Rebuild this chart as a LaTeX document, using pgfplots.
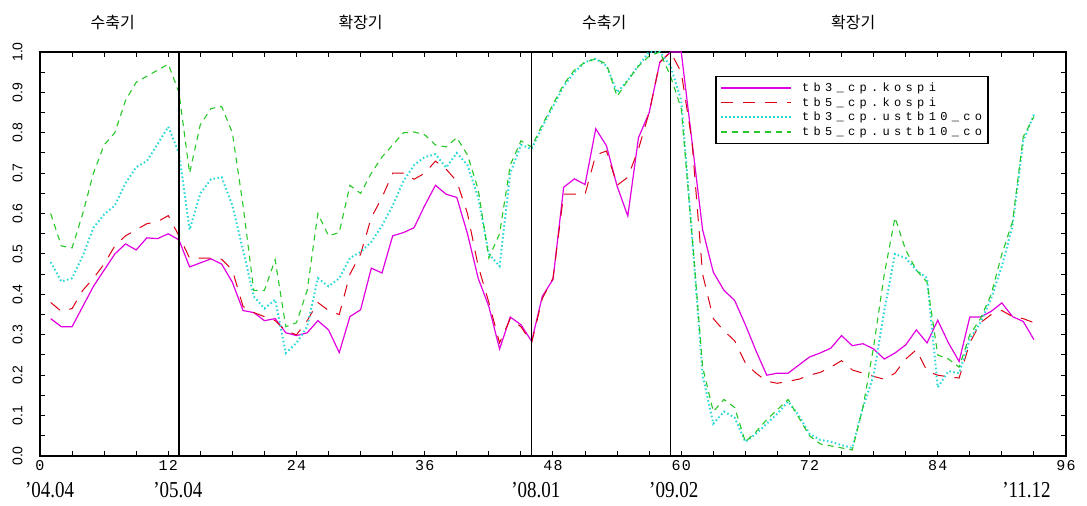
\documentclass[border=0pt]{standalone}
\usepackage{fontspec}
\usepackage{pgfplots}
\usepackage{pgfplotstable}
\pgfplotsset{compat=1.18}
\setmainfont{Liberation Serif}
\newfontfamily\kr{Noto Sans CJK KR}
\newfontfamily\pix[LetterSpace=8]{Liberation Mono}
\newfontfamily\legfont[LetterSpace=36]{Liberation Mono}
\newfontfamily\ypix{Liberation Sans}
\definecolor{cmag}{RGB}{225,0,225}
\definecolor{cred}{RGB}{220,0,20}
\definecolor{ccyan}{RGB}{40,215,215}
\definecolor{cgreen}{RGB}{40,200,40}
\pgfplotstableread{
x a b c d
1 0.34 0.38 0.48 0.60
2 0.32 0.358 0.432 0.52
3 0.32 0.365 0.44 0.515
4 0.37 0.41 0.495 0.60
5 0.42 0.44 0.565 0.70
6 0.46 0.475 0.598 0.77
7 0.50 0.52 0.62 0.80
8 0.525 0.545 0.675 0.88
9 0.51 0.56 0.715 0.925
10 0.54 0.575 0.73 0.94
11 0.538 0.58 0.772 0.955
12 0.55 0.595 0.815 0.97
13 0.535 0.545 0.75 0.90
14 0.468 0.49 0.56 0.70
15 0.478 0.49 0.65 0.82
16 0.488 0.49 0.685 0.86
17 0.475 0.487 0.69 0.865
18 0.43 0.46 0.62 0.80
19 0.36 0.37 0.51 0.62
20 0.355 0.355 0.395 0.41
21 0.335 0.345 0.365 0.41
22 0.34 0.335 0.387 0.486
23 0.305 0.31 0.255 0.32
24 0.298 0.30 0.28 0.33
25 0.305 0.335 0.32 0.41
26 0.335 0.38 0.44 0.60
27 0.312 0.36 0.42 0.545
28 0.256 0.35 0.44 0.553
29 0.345 0.45 0.49 0.67
30 0.362 0.50 0.505 0.65
31 0.465 0.59 0.53 0.70
32 0.453 0.64 0.57 0.74
33 0.545 0.70 0.62 0.77
34 0.553 0.70 0.68 0.80
35 0.565 0.685 0.72 0.802
36 0.62 0.70 0.74 0.795
37 0.67 0.73 0.747 0.77
38 0.648 0.71 0.714 0.765
39 0.64 0.68 0.75 0.788
40 0.55 0.60 0.72 0.745
41 0.44 0.47 0.64 0.66
42 0.37 0.38 0.50 0.49
43 0.265 0.28 0.47 0.55
44 0.344 0.34 0.70 0.72
45 0.325 0.32 0.77 0.78
46 0.284 0.28 0.76 0.765
47 0.395 0.39 0.815 0.82
48 0.437 0.44 0.865 0.87
49 0.665 0.648 0.915 0.92
50 0.686 0.648 0.95 0.955
51 0.672 0.648 0.975 0.975
52 0.81 0.745 0.983 0.983
53 0.768 0.755 0.966 0.97
54 0.668 0.67 0.90 0.89
55 0.594 0.69 0.93 0.93
56 0.788 0.76 0.966 0.965
57 0.85 0.85 1.0 0.99
58 0.975 0.975 1.0 1.0
59 1.0 1.0 0.965 0.94
60 1.0 0.95 0.88 0.86
61 0.78 0.78 0.55 0.55
62 0.56 0.45 0.20 0.22
63 0.455 0.34 0.08 0.11
64 0.41 0.31 0.11 0.14
65 0.385 0.285 0.095 0.12
66 0.325 0.23 0.035 0.035
67 0.26 0.205 0.055 0.06
68 0.2 0.185 0.08 0.09
69 0.205 0.18 0.105 0.115
70 0.205 0.185 0.135 0.14
71 0.225 0.19 0.10 0.095
72 0.245 0.20 0.055 0.05
73 0.255 0.207 0.04 0.03
74 0.267 0.22 0.035 0.025
75 0.298 0.236 0.027 0.02
76 0.273 0.213 0.02 0.015
77 0.278 0.205 0.12 0.12
78 0.265 0.197 0.20 0.27
79 0.24 0.19 0.36 0.45
80 0.255 0.205 0.50 0.59
81 0.275 0.24 0.49 0.51
82 0.312 0.263 0.46 0.46
83 0.28 0.21 0.44 0.43
84 0.336 0.20 0.17 0.25
85 0.28 0.196 0.21 0.24
86 0.234 0.193 0.205 0.22
87 0.344 0.28 0.29 0.30
88 0.344 0.33 0.33 0.34
89 0.358 0.35 0.39 0.40
90 0.379 0.36 0.47 0.50
91 0.345 0.345 0.57 0.58
92 0.333 0.34 0.78 0.79
93 0.288 0.33 0.845 0.84
}\datatab
\begin{document}
\begin{tikzpicture}
\begin{axis}[
  at={(0pt,0pt)}, anchor=south west,
  width=1026pt, height=404pt, scale only axis,
  xmin=0, xmax=96, ymin=0, ymax=1,
  xtick={0,12,24,36,48,60,72,84,96},
  minor x tick num=3,
  ytick={0,0.1,0.2,0.3,0.4,0.5,0.6,0.7,0.8,0.9,1.0},
  minor y tick num=1,
  tick align=inside,
  major tick length=5pt, minor tick length=5pt,
  tick style={black, line width=1pt},
  axis line style={black, line width=1.6pt},
  /pgf/number format/assume math mode=true,
  xticklabel style={font=\pix\fontsize{15}{15}\selectfont},
  xticklabel shift=1pt,
  yticklabel={\rotatebox{90}{\pgfmathprintnumber[fixed,fixed zerofill,precision=1]{\tick}}},
  yticklabel style={font=\ypix\fontsize{14}{14}\selectfont, anchor=east, xshift=-14pt},
  clip=false,
  legend style={at={(axis cs:63.2,0.94)}, anchor=north west, draw=black,
    very thick, fill=white, font=\legfont\fontsize{12}{12}\selectfont,
    cells={anchor=west}, row sep=0.5pt, inner xsep=4pt, inner ysep=4pt,
    /tikz/every odd column/.append style={column sep=8pt}},
  legend image code/.code={\draw[#1] (0pt,0pt) -- (70pt,0pt);},
]
\addplot[cmag, line width=1.2pt] table[x=x, y=a] {\datatab};
\addlegendentry{tb3\_cp.kospi}
\addplot[cred, line width=1pt, dash pattern=on 12pt off 10pt] table[x=x, y=b] {\datatab};
\addlegendentry{tb5\_cp.kospi}
\addplot[ccyan, line width=2pt, dash pattern=on 1.5pt off 2.5pt] table[x=x, y=c] {\datatab};
\addlegendentry{tb3\_cp.ustb10\_co}
\addplot[cgreen, line width=1.1pt, dash pattern=on 6pt off 5pt] table[x=x, y=d] {\datatab};
\addlegendentry{tb5\_cp.ustb10\_co}
\addplot[black, line width=1.5pt, forget plot] coordinates {(13,0) (13,1)};
\addplot[black, line width=1.5pt, forget plot] coordinates {(46,0) (46,1)};
\addplot[black, line width=1.5pt, forget plot] coordinates {(59,0) (59,1)};
\node[font=\kr\fontsize{16}{16}\selectfont] at (axis cs:6.8,1.074) {수축기};
\node[font=\kr\fontsize{16}{16}\selectfont] at (axis cs:30,1.074) {확장기};
\node[font=\kr\fontsize{16}{16}\selectfont] at (axis cs:52.8,1.074) {수축기};
\node[font=\kr\fontsize{16}{16}\selectfont] at (axis cs:76.1,1.074) {확장기};
\node[font=\fontsize{19}{19}\selectfont] at (axis cs:0.9,-0.084) {\scalebox{1}[1.2]{’04.04}};
\node[font=\fontsize{19}{19}\selectfont] at (axis cs:12.9,-0.084) {\scalebox{1}[1.2]{’05.04}};
\node[font=\fontsize{19}{19}\selectfont] at (axis cs:46.4,-0.084) {\scalebox{1}[1.2]{’08.01}};
\node[font=\fontsize{19}{19}\selectfont] at (axis cs:59.3,-0.084) {\scalebox{1}[1.2]{’09.02}};
\node[font=\fontsize{19}{19}\selectfont] at (axis cs:92.3,-0.084) {\scalebox{1}[1.2]{’11.12}};
\end{axis}
\pgfresetboundingbox
\path[use as bounding box] (-40pt,-50pt) rectangle (1047pt,456pt);
\end{tikzpicture}
\end{document}
